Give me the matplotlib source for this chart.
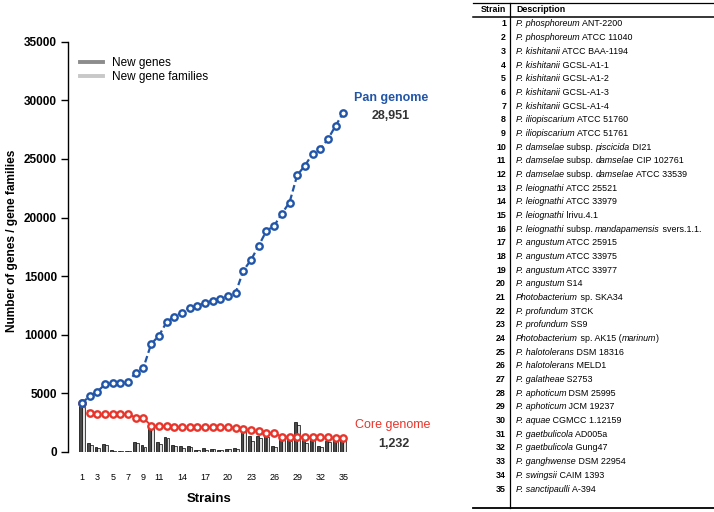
import numpy as np
import matplotlib
matplotlib.use("Agg")
import matplotlib.pyplot as plt
from matplotlib.lines import Line2D

plt.rcParams['font.family'] = ['Liberation Sans', 'DejaVu Sans']

strains = list(range(1, 36))
pan_genome = [4157, 4781, 5150, 5776, 5862, 5919, 5976, 6772, 7200, 9220,
              9903, 11070, 11550, 11890, 12290, 12490, 12690, 12920, 13060, 13320,
              13600, 15480, 16390, 17610, 18870, 19290, 20340, 21280, 23620, 24420,
              25440, 25840, 26690, 27830, 28951]
core_genome = [4157, 3300, 3280, 3260, 3240, 3230, 3220, 2930, 2880, 2250,
               2220, 2180, 2160, 2150, 2140, 2130, 2120, 2110, 2100, 2090,
               2070, 1960, 1880, 1790, 1650, 1610, 1310, 1300, 1270, 1260,
               1250, 1245, 1240, 1236, 1232]
new_genes = [4330, 770, 400, 680, 200, 90, 90, 850, 570, 2150,
             825, 1250, 570, 480, 480, 200, 340, 260, 200, 260,
             310, 1900, 1340, 1340, 1340, 540, 1110, 1110, 2560, 1000,
             1050, 480, 910, 1110, 1110]
new_families = [4157, 624, 370, 626, 86, 57, 57, 796, 428, 2020,
                683, 1167, 480, 340, 400, 200, 200, 230, 140, 260,
                280, 1880, 910, 1220, 1260, 420, 1050, 940, 2340, 800,
                1020, 400, 850, 1140, 1120]
xtick_strains = [1, 3, 5, 7, 9, 11, 14, 17, 20, 23, 26, 29, 32, 35]

table_strains = [str(i) for i in strains]
descriptions = [
    "*P. phosphoreum* ANT-2200",
    "*P. phosphoreum* ATCC 11040",
    "*P. kishitanii* ATCC BAA-1194",
    "*P. kishitanii* GCSL-A1-1",
    "*P. kishitanii* GCSL-A1-2",
    "*P. kishitanii* GCSL-A1-3",
    "*P. kishitanii* GCSL-A1-4",
    "*P. iliopiscarium* ATCC 51760",
    "*P. iliopiscarium* ATCC 51761",
    "*P. damselae* subsp. *piscicida* DI21",
    "*P. damselae* subsp. *damselae* CIP 102761",
    "*P. damselae* subsp. *damselae* ATCC 33539",
    "*P. leiognathi* ATCC 25521",
    "*P. leiognathi* ATCC 33979",
    "*P. leiognathi* lrivu.4.1",
    "*P. leiognathi* subsp. *mandapamensis* svers.1.1.",
    "*P. angustum* ATCC 25915",
    "*P. angustum* ATCC 33975",
    "*P. angustum* ATCC 33977",
    "*P. angustum* S14",
    "*Photobacterium* sp. SKA34",
    "*P. profundum* 3TCK",
    "*P. profundum* SS9",
    "*Photobacterium* sp. AK15 (*marinum*)",
    "*P. halotolerans* DSM 18316",
    "*P. halotolerans* MELD1",
    "*P. galatheae* S2753",
    "*P. aphoticum* DSM 25995",
    "*P. aphoticum* JCM 19237",
    "*P. aquae* CGMCC 1.12159",
    "*P. gaetbulicola* AD005a",
    "*P. gaetbulicola* Gung47",
    "*P. ganghwense* DSM 22954",
    "*P. swingsii* CAIM 1393",
    "*P. sanctipaulli* A-394",
]

blue = '#2155a8'
red = '#e8352b'

fig = plt.figure(figsize=(7.14, 5.12), dpi=100)
ax = fig.add_axes([68 / 714, 60 / 512, 283 / 714, 410.3 / 512])

x = np.array(strains)
w = 0.36
ax.bar(x - 0.19, new_genes, width=w, color='#4a4a4a', edgecolor='black', linewidth=0.5, zorder=2)
ax.bar(x + 0.19, new_families, width=w, color='#e0e0e0', edgecolor='black', linewidth=0.5, zorder=2)

ax.plot(x, core_genome, color=red, linestyle=(0, (3, 1.5)), lw=1.4,
        marker='o', markersize=4.6, markerfacecolor='white', markeredgecolor=red,
        markeredgewidth=1.7, zorder=3)
ax.plot(x, pan_genome, color=blue, linestyle=(0, (3, 1.5)), lw=1.6,
        marker='o', markersize=4.6, markerfacecolor='white', markeredgecolor=blue,
        markeredgewidth=1.7, zorder=4)

ax.set_xlim(-0.82, 36)
ax.set_ylim(0, 35000)
ax.set_yticks(range(0, 35001, 5000))
ax.set_xticks(xtick_strains)
ax.set_xticklabels([str(s) for s in xtick_strains], fontsize=6.5)
ax.tick_params(axis='x', length=0, pad=15)
ax.tick_params(axis='y', length=5, width=1, labelsize=8.5, pad=3)
for lab in ax.get_yticklabels():
    lab.set_fontweight('bold')
for side in ['top', 'right', 'bottom']:
    ax.spines[side].set_visible(False)
ax.spines['left'].set_linewidth(1)
ax.set_xlabel('Strains', fontsize=9.5, fontweight='bold', labelpad=8)
ax.set_ylabel('Number of genes / gene families', fontsize=8.6, fontweight='bold')
ax.yaxis.set_label_coords(-0.178, 0.515)

handles = [Line2D([], [], color='#8c8c8c', lw=2.8),
           Line2D([], [], color='#c8c8c8', lw=2.8)]
ax.legend(handles, ['New genes', 'New gene families'], loc='upper left',
          bbox_to_anchor=(0.042, 0.962), frameon=False, fontsize=8.5,
          handlelength=2.0, handletextpad=0.75, borderpad=0, borderaxespad=0,
          labelspacing=0.12)

ax.text(36.4, 30220, 'Pan genome', color=blue, fontsize=9, fontweight='bold',
        ha='left', va='center', clip_on=False)
ax.text(41.1, 28700, '28,951', color='#333333', fontsize=9, fontweight='bold',
        ha='center', va='center', clip_on=False)
ax.text(36.5, 2305, 'Core genome', color=red, fontsize=9,
        ha='left', va='center', clip_on=False)
ax.text(41.6, 640, '1,232', color='#333333', fontsize=9, fontweight='bold',
        ha='center', va='center', clip_on=False)

# table on the right, drawn in pixel coordinates
tab = fig.add_axes([0, 0, 1, 1])
tab.set_xlim(0, 714)
tab.set_ylim(512, 0)
tab.axis('off')
tab.plot([473, 714], [3, 3], color='black', lw=0.9)
tab.plot([473, 714], [17, 17], color='black', lw=1.1)
tab.plot([473, 714], [507.5, 507.5], color='black', lw=1.3)
tab.plot([510, 510], [3, 507.5], color='black', lw=0.9)
tab.text(506, 10, 'Strain', fontsize=6.4, fontweight='bold', ha='right', va='center')
tab.text(516, 10, 'Description', fontsize=6.4, fontweight='bold', ha='left', va='center')

row_h = (489 - 24) / 34
for i, (num, desc) in enumerate(zip(table_strains, descriptions)):
    y = 24 + i * row_h
    tab.text(506, y, num, fontsize=6.4, fontweight='bold', ha='right', va='center')
    parts = desc.split('*')
    prev = None
    for k, part in enumerate(parts):
        if part == '':
            continue
        style = 'italic' if k % 2 == 1 else 'normal'
        if prev is None:
            prev = tab.text(516, y, part, fontsize=6.4, style=style, ha='left', va='center')
        else:
            prev = tab.annotate(part, xy=(1, 0), xycoords=prev, fontsize=6.4,
                                style=style, ha='left', va='bottom')

fig.savefig('out.png', dpi=100)
